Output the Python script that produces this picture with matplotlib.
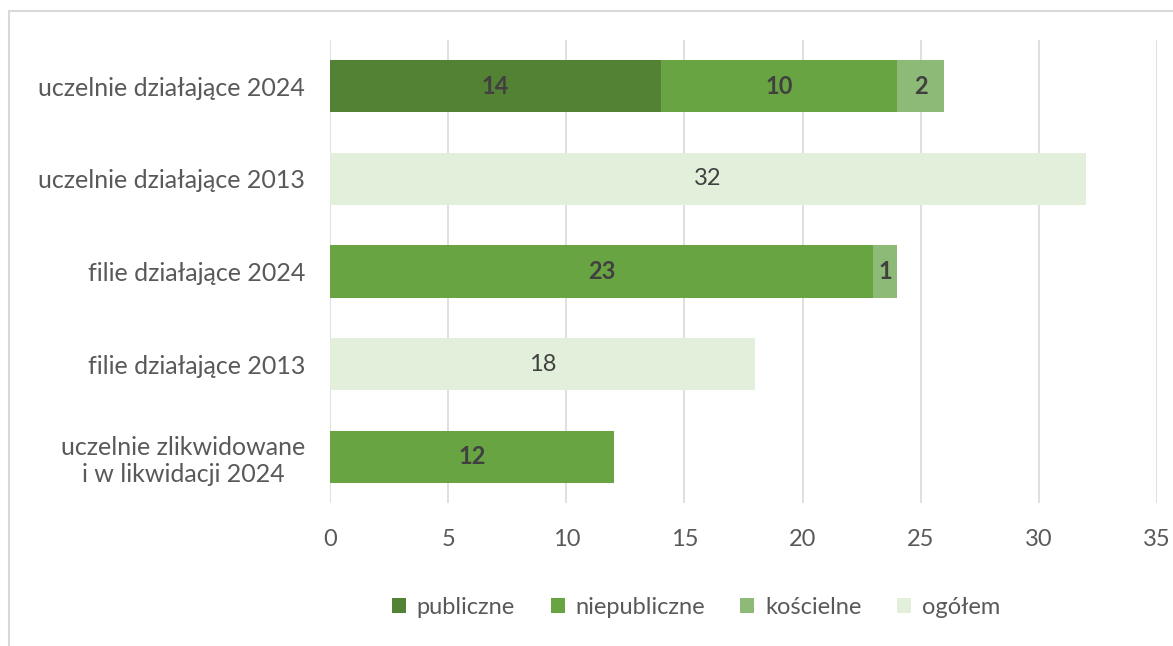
import matplotlib
matplotlib.use("Agg")
import matplotlib.pyplot as plt
from matplotlib.patches import Rectangle
import numpy as np

categories = ["uczelnie działające 2024", "uczelnie działające 2013",
              "filie działające 2024", "filie działające 2013",
              "uczelnie zlikwidowane\ni w likwidacji 2024"]
series_names = ["publiczne", "niepubliczne", "kościelne", "ogółem"]
publiczne = [14, 0, 0, 0, 0]
niepubliczne = [10, 0, 23, 0, 12]
koscielne = [2, 0, 1, 0, 0]
ogolem = [0, 32, 0, 18, 0]
xticks = [0, 5, 10, 15, 20, 25, 30, 35]

colors = ["#548235", "#69A443", "#8DBB77", "#E2EFDA"]
label_styles = [("bold", "#404040"), ("bold", "#404040"), ("bold", "#404040"), ("normal", "#404040")]

plt.rcParams['font.family'] = ['Lato', 'DejaVu Sans']

fig = plt.figure(figsize=(11.73, 6.46), dpi=100)
ax = fig.add_axes([330/1173, (646-503)/646, 827/1173, 463/646])

y = np.arange(len(categories))
left = np.zeros(len(categories))
handles = []
for name, vals, col, (fw, fc) in zip(series_names, [publiczne, niepubliczne, koscielne, ogolem], colors, label_styles):
    vals = np.array(vals, dtype=float)
    bars = ax.barh(y, vals, left=left, height=0.565, color=col, label=name,
                   linewidth=0)
    handles.append(bars)
    for yi, v, l in zip(y, vals, left):
        if v > 0:
            ax.text(l + v / 2, yi, f"{int(v)}", ha="center", va="center",
                    fontsize=17, fontweight=fw, color=fc)
    left += vals

ax.set_ylim(len(categories) - 0.5, -0.5)
ax.set_xlim(0, 35)
ax.set_xticks(xticks)
ax.set_xticklabels([str(t) for t in xticks])
ax.set_yticks(y)
ax.set_yticklabels(categories, multialignment="center")
ax.tick_params(axis="x", length=0, labelsize=17, labelcolor="#595959", pad=19)
ax.tick_params(axis="y", length=0, labelsize=18, labelcolor="#595959", pad=18)
for s in ax.spines.values():
    s.set_visible(False)
ax.grid(axis="x", color="#d9d9d9", linewidth=1.2)
ax.set_axisbelow(True)

leg = fig.legend(handles=handles, labels=series_names, loc="center",
                 bbox_to_anchor=(696/1173, 1 - 607/646), ncol=4, frameon=False,
                 fontsize=17, handlelength=0.6, handleheight=0.6, handletextpad=0.45,
                 columnspacing=1.5, labelcolor="#595959")

fig.patches.append(Rectangle((9/1173, -0.05), 1.2, 1 - 11/646 + 0.05,
                             transform=fig.transFigure, fill=False,
                             edgecolor="#d9d9d9", linewidth=1.5))

fig.savefig("out.png", dpi=100)
